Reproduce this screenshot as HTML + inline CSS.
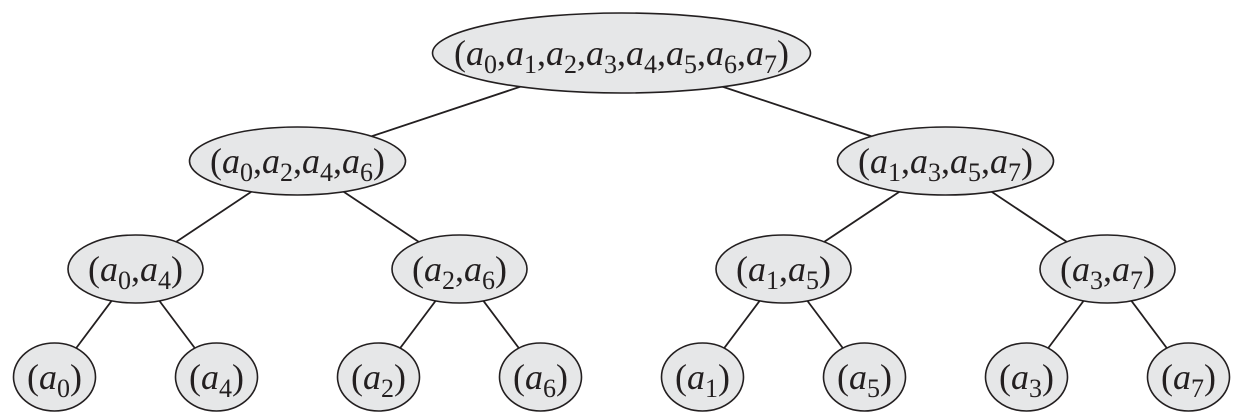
<!DOCTYPE html>
<html>
<head>
<meta charset="utf-8">
<style>
html,body{margin:0;padding:0;background:#fff;}
svg{display:block;}
text{font-family:"Liberation Serif","DejaVu Serif",serif;font-size:36px;fill:#231f20;}
.i{font-style:italic;}
.s{font-size:26px;}
</style>
</head>
<body>
<svg width="1260" height="420" viewBox="0 0 1260 420" xmlns="http://www.w3.org/2000/svg">
<g stroke="#231f20" stroke-width="1.8" fill="none">
<line x1="621.5" y1="53" x2="297.5" y2="161"/>
<line x1="621.5" y1="53" x2="945.5" y2="161"/>
<line x1="297.5" y1="161" x2="135.5" y2="269"/>
<line x1="297.5" y1="161" x2="459.5" y2="269"/>
<line x1="945.5" y1="161" x2="783.5" y2="269"/>
<line x1="945.5" y1="161" x2="1107.5" y2="269"/>
<line x1="135.5" y1="269" x2="54.5" y2="377"/>
<line x1="135.5" y1="269" x2="216.5" y2="377"/>
<line x1="459.5" y1="269" x2="378.5" y2="377"/>
<line x1="459.5" y1="269" x2="540.5" y2="377"/>
<line x1="783.5" y1="269" x2="702.5" y2="377"/>
<line x1="783.5" y1="269" x2="864.5" y2="377"/>
<line x1="1107.5" y1="269" x2="1026.5" y2="377"/>
<line x1="1107.5" y1="269" x2="1188.5" y2="377"/>
</g>
<g stroke="#231f20" stroke-width="1.6" fill="#e6e7e8">
<ellipse cx="621.5" cy="53" rx="189" ry="40"/>
<ellipse cx="297.5" cy="161" rx="108" ry="34"/>
<ellipse cx="945.5" cy="161" rx="108" ry="34"/>
<ellipse cx="135.5" cy="269" rx="67.5" ry="34"/>
<ellipse cx="459.5" cy="269" rx="67.5" ry="34"/>
<ellipse cx="783.5" cy="269" rx="67.5" ry="34"/>
<ellipse cx="1107.5" cy="269" rx="67.5" ry="34"/>
<ellipse cx="54.5" cy="377" rx="41" ry="34"/>
<ellipse cx="216.5" cy="377" rx="41" ry="34"/>
<ellipse cx="378.5" cy="377" rx="41" ry="34"/>
<ellipse cx="540.5" cy="377" rx="41" ry="34"/>
<ellipse cx="702.5" cy="377" rx="41" ry="34"/>
<ellipse cx="864.5" cy="377" rx="41" ry="34"/>
<ellipse cx="1026.5" cy="377" rx="41" ry="34"/>
<ellipse cx="1188.5" cy="377" rx="41" ry="34"/>
</g>

<!-- root -->
<text x="621.5" y="65" text-anchor="middle">(<tspan class="i">a</tspan><tspan class="s" dy="8">0</tspan><tspan dy="-8">,</tspan><tspan class="i">a</tspan><tspan class="s" dy="8">1</tspan><tspan dy="-8">,</tspan><tspan class="i">a</tspan><tspan class="s" dy="8">2</tspan><tspan dy="-8">,</tspan><tspan class="i">a</tspan><tspan class="s" dy="8">3</tspan><tspan dy="-8">,</tspan><tspan class="i">a</tspan><tspan class="s" dy="8">4</tspan><tspan dy="-8">,</tspan><tspan class="i">a</tspan><tspan class="s" dy="8">5</tspan><tspan dy="-8">,</tspan><tspan class="i">a</tspan><tspan class="s" dy="8">6</tspan><tspan dy="-8">,</tspan><tspan class="i">a</tspan><tspan class="s" dy="8">7</tspan><tspan dy="-8">)</tspan></text>

<!-- level 2 -->
<text x="297.5" y="173" text-anchor="middle">(<tspan class="i">a</tspan><tspan class="s" dy="8">0</tspan><tspan dy="-8">,</tspan><tspan class="i">a</tspan><tspan class="s" dy="8">2</tspan><tspan dy="-8">,</tspan><tspan class="i">a</tspan><tspan class="s" dy="8">4</tspan><tspan dy="-8">,</tspan><tspan class="i">a</tspan><tspan class="s" dy="8">6</tspan><tspan dy="-8">)</tspan></text>
<text x="945.5" y="173" text-anchor="middle">(<tspan class="i">a</tspan><tspan class="s" dy="8">1</tspan><tspan dy="-8">,</tspan><tspan class="i">a</tspan><tspan class="s" dy="8">3</tspan><tspan dy="-8">,</tspan><tspan class="i">a</tspan><tspan class="s" dy="8">5</tspan><tspan dy="-8">,</tspan><tspan class="i">a</tspan><tspan class="s" dy="8">7</tspan><tspan dy="-8">)</tspan></text>

<!-- level 3 -->
<text x="135.5" y="281" text-anchor="middle">(<tspan class="i">a</tspan><tspan class="s" dy="8">0</tspan><tspan dy="-8">,</tspan><tspan class="i">a</tspan><tspan class="s" dy="8">4</tspan><tspan dy="-8">)</tspan></text>
<text x="459.5" y="281" text-anchor="middle">(<tspan class="i">a</tspan><tspan class="s" dy="8">2</tspan><tspan dy="-8">,</tspan><tspan class="i">a</tspan><tspan class="s" dy="8">6</tspan><tspan dy="-8">)</tspan></text>
<text x="783.5" y="281" text-anchor="middle">(<tspan class="i">a</tspan><tspan class="s" dy="8">1</tspan><tspan dy="-8">,</tspan><tspan class="i">a</tspan><tspan class="s" dy="8">5</tspan><tspan dy="-8">)</tspan></text>
<text x="1107.5" y="281" text-anchor="middle">(<tspan class="i">a</tspan><tspan class="s" dy="8">3</tspan><tspan dy="-8">,</tspan><tspan class="i">a</tspan><tspan class="s" dy="8">7</tspan><tspan dy="-8">)</tspan></text>

<!-- leaves -->
<text x="54.5" y="389" text-anchor="middle">(<tspan class="i">a</tspan><tspan class="s" dy="8">0</tspan><tspan dy="-8">)</tspan></text>
<text x="216.5" y="389" text-anchor="middle">(<tspan class="i">a</tspan><tspan class="s" dy="8">4</tspan><tspan dy="-8">)</tspan></text>
<text x="378.5" y="389" text-anchor="middle">(<tspan class="i">a</tspan><tspan class="s" dy="8">2</tspan><tspan dy="-8">)</tspan></text>
<text x="540.5" y="389" text-anchor="middle">(<tspan class="i">a</tspan><tspan class="s" dy="8">6</tspan><tspan dy="-8">)</tspan></text>
<text x="702.5" y="389" text-anchor="middle">(<tspan class="i">a</tspan><tspan class="s" dy="8">1</tspan><tspan dy="-8">)</tspan></text>
<text x="864.5" y="389" text-anchor="middle">(<tspan class="i">a</tspan><tspan class="s" dy="8">5</tspan><tspan dy="-8">)</tspan></text>
<text x="1026.5" y="389" text-anchor="middle">(<tspan class="i">a</tspan><tspan class="s" dy="8">3</tspan><tspan dy="-8">)</tspan></text>
<text x="1188.5" y="389" text-anchor="middle">(<tspan class="i">a</tspan><tspan class="s" dy="8">7</tspan><tspan dy="-8">)</tspan></text>
</svg>
</body>
</html>
